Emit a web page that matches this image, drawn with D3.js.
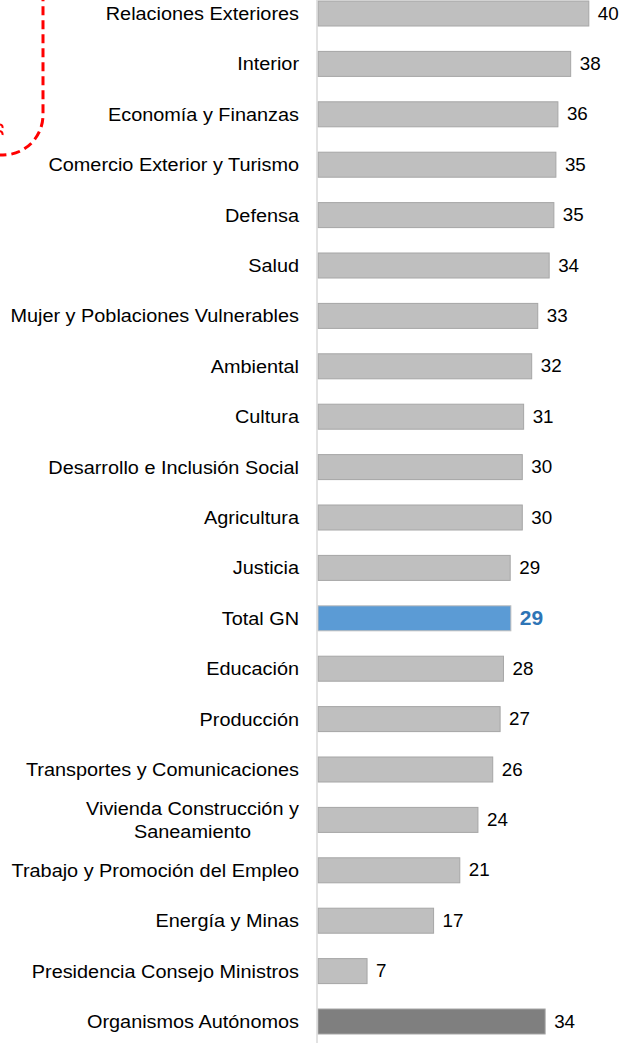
<!DOCTYPE html>
<html><head><meta charset="utf-8">
<script src="https://cdn.jsdelivr.net/npm/d3@7"></script>
<style>body{margin:0;background:#fff}svg{display:block}text{font-family:"Liberation Sans",Arial,sans-serif}</style>
</head><body>
<script>
const categories = ["Relaciones Exteriores","Interior","Economía y Finanzas","Comercio Exterior y Turismo","Defensa","Salud","Mujer y Poblaciones Vulnerables","Ambiental","Cultura","Desarrollo e Inclusión Social","Agricultura","Justicia","Total GN","Educación","Producción","Transportes y Comunicaciones","Vivienda Construcción y|Saneamiento","Trabajo y Promoción del Empleo","Energía y Minas","Presidencia Consejo Ministros","Organismos Autónomos"];
const values = [40.3,37.6,35.7,35.4,35.1,34.4,32.7,31.8,30.6,30.4,30.4,28.6,28.7,27.6,27.1,26.0,23.8,21.1,17.2,7.3,33.8];
const kinds = ["g","g","g","g","g","g","g","g","g","g","g","g","total","g","g","g","g","g","g","g","org"];

const W=634,H=1045, SX=1.075;
const svg=d3.select("body").append("svg").attr("width",W).attr("height",H);
const x=d3.scaleLinear().domain([0,45]).range([318,620.4]);
const y=d3.scalePoint().domain(categories).range([13.5,1021.5]);
const bh=25;
const fill={g:"#bfbfbf",total:"#5b9bd5",org:"#7f7f7f"};
const stroke={g:"#a6a6a6",total:"#bdbdbd",org:"#a6a6a6"};

function txt(g,tx,ty,anchor,size,str){
  return g.append("text").attr("transform",`translate(${tx},${ty}) scale(${SX},1)`)
    .attr("dy","0.35em").attr("text-anchor",anchor).attr("font-size",size).text(str);
}

// red dashed callout (clipped at page edge)
svg.append("rect").attr("x",-200).attr("y",-200).attr("width",243).attr("height",355).attr("rx",40)
  .attr("fill","none").attr("stroke","#ff0000").attr("stroke-width",3).attr("stroke-dasharray","9,5");
svg.append("path").attr("d","M0,124.5 Q3,125 2.5,128 M0,131 Q3,132 2.5,135")
  .attr("fill","none").attr("stroke","#ff0000").attr("stroke-width",2);

const rows=svg.selectAll("g.row").data(categories.map((c,i)=>({c,v:values[i],k:kinds[i]}))).join("g");
rows.append("rect").attr("x",x(0)).attr("y",d=>y(d.c)-bh/2).attr("width",d=>x(d.v)-x(0)).attr("height",bh)
  .attr("fill",d=>fill[d.k]).attr("stroke",d=>stroke[d.k]).attr("stroke-width",1);
rows.each(function(d){
  const g=d3.select(this);
  const lab=txt(g,x(d.v)+9,y(d.c),"start",d.k==="total"?19.5:17.5,d3.format(".0f")(d.v));
  if(d.k==="total") lab.attr("font-weight","bold").attr("fill","#2e75b6"); else lab.attr("fill","#000");
  const parts=d.c.split("|");
  if(parts.length===1){
    txt(g,299,y(d.c),"end",18.5,parts[0]).attr("fill","#000");
  } else {
    parts.forEach((p,j)=>txt(g,192.5,y(d.c)+(j-0.5)*23,"middle",18.5,p).attr("fill","#000"));
  }
});
// axis line
svg.append("line").attr("x1",317).attr("x2",317).attr("y1",0).attr("y2",1043).attr("stroke","#d9d9d9").attr("stroke-width",1.5);
</script>
</body></html>
